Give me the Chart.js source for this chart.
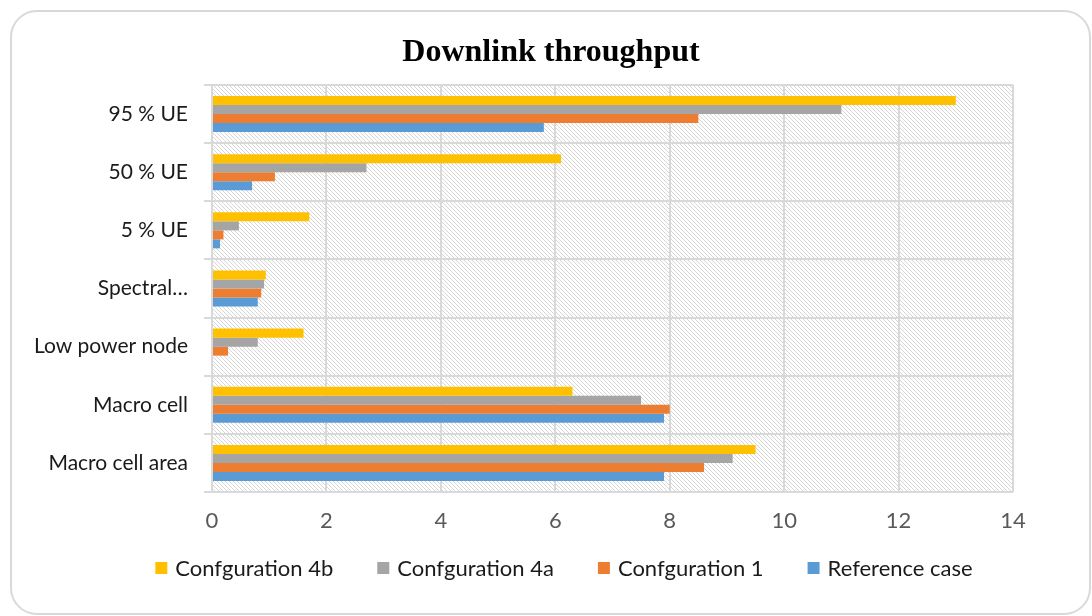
<!DOCTYPE html>
<html>
<head>
<meta charset="utf-8">
<title>Downlink throughput</title>
<script src="https://cdn.jsdelivr.net/npm/chart.js@4"></script>
<style>
  html, body { margin: 0; padding: 0; background: #fff; }
  canvas { display: block; }
</style>
</head>
<body>
<canvas id="debitChart" width="1092" height="616"></canvas>
<script>
// Catégories (de haut en bas) et valeurs par configuration
const categories = ["95 % UE", "50 % UE", "5 % UE", "Spectral…", "Low power node", "Macro cell", "Macro cell area"];
const config4b = [13, 6.1, 1.7, 0.94, 1.6, 6.3, 9.5];
const config4a = [11, 2.7, 0.47, 0.91, 0.8, 7.5, 9.1];
const config1 = [8.5, 1.1, 0.2, 0.86, 0.28, 8.0, 8.6];
const referenceCase = [5.8, 0.7, 0.14, 0.8, 0, 7.9, 7.9];
const xTicks = [0, 2, 4, 6, 8, 10, 12, 14];

const titre = "Downlink throughput";
const police = "Lato, 'Open Sans', sans-serif";

// Motif hachuré du fond de la zone de tracé
function creerHachures() {
  const c = document.createElement("canvas");
  c.width = 4;
  c.height = 4;
  const g = c.getContext("2d");
  g.fillStyle = "#ffffff";
  g.fillRect(0, 0, 4, 4);
  g.fillStyle = "#d6d6d6";
  for (let i = 0; i < 4; i++) g.fillRect(i, i, 1, 1);
  return g.createPattern(c, "repeat");
}

// Fond hachuré, cadre arrondi, titre et légende
const decorPlugin = {
  id: "decor",
  beforeDraw(chart) {
    const { ctx, chartArea } = chart;
    ctx.save();
    ctx.fillStyle = "#ffffff";
    ctx.fillRect(0, 0, chart.width, chart.height);
    ctx.strokeStyle = "#d9d9d9";
    ctx.lineWidth = 2;
    ctx.beginPath();
    ctx.roundRect(11, 11, 1079, 603, 26);
    ctx.stroke();
    ctx.fillStyle = creerHachures();
    ctx.fillRect(chartArea.left, chartArea.top, chartArea.right - chartArea.left, chartArea.bottom - chartArea.top);
    ctx.restore();
  },
  afterDraw(chart) {
    const ctx = chart.ctx;
    ctx.save();

    // Titre
    ctx.fillStyle = "#000";
    ctx.font = "bold 32px 'Liberation Serif', 'Times New Roman', serif";
    ctx.textAlign = "center";
    ctx.textBaseline = "alphabetic";
    ctx.fillText(titre, 551, 61);

    // Légende en bas, une seule ligne centrée
    ctx.font = "22px " + police;
    ctx.textAlign = "left";
    ctx.textBaseline = "middle";
    const carre = 12, ecartTexte = 20, ecartItem = 44, yLeg = 568;
    const items = chart.data.datasets.map(ds => ({
      texte: ds.label,
      couleur: ds.backgroundColor,
      largeur: ecartTexte + ctx.measureText(ds.label).width
    }));
    const total = items.reduce((s, it) => s + it.largeur, 0) + ecartItem * (items.length - 1);
    let x = 564 - total / 2;
    items.forEach(it => {
      ctx.fillStyle = it.couleur;
      ctx.fillRect(x, yLeg - carre / 2, carre, carre);
      ctx.fillStyle = "#1a1a1a";
      ctx.fillText(it.texte, x + ecartTexte, yLeg + 1);
      x += it.largeur + ecartItem;
    });
    ctx.restore();
  }
};

const ctx = document.getElementById("debitChart").getContext("2d");
new Chart(ctx, {
  type: "bar",
  data: {
    labels: categories,
    datasets: [
      { label: "Confguration 4b", data: config4b, backgroundColor: "#FFC000" },
      { label: "Confguration 4a", data: config4a, backgroundColor: "#A5A5A5" },
      { label: "Confguration 1", data: config1, backgroundColor: "#ED7D31" },
      { label: "Reference case", data: referenceCase, backgroundColor: "#5B9BD5" }
    ]
  },
  options: {
    indexAxis: "y",
    responsive: false,
    animation: false,
    categoryPercentage: 0.62,
    barPercentage: 1,
    layout: { padding: { left: 20, right: 79, top: 85, bottom: 76 } },
    plugins: {
      title: { display: false },
      legend: { display: false },
      tooltip: { enabled: false }
    },
    scales: {
      x: {
        min: 0,
        max: 14,
        afterBuildTicks(scale) {
          scale.ticks = xTicks.map(v => ({ value: v }));
        },
        afterFit(scale) { scale.height = 48; },
        grid: { color: "#d9d9d9", lineWidth: 2, drawTicks: false },
        border: { display: false },
        ticks: { color: "#595959", padding: 16, font: { family: police, size: 22 } }
      },
      y: {
        afterFit(scale) { scale.width = 192; },
        grid: { offset: true, color: "#d9d9d9", lineWidth: 2, tickLength: 8 },
        border: { color: "#d9d9d9", width: 2 },
        ticks: { color: "#1a1a1a", padding: 16, font: { family: police, size: 21 } }
      }
    }
  },
  plugins: [decorPlugin]
});
</script>
</body>
</html>
